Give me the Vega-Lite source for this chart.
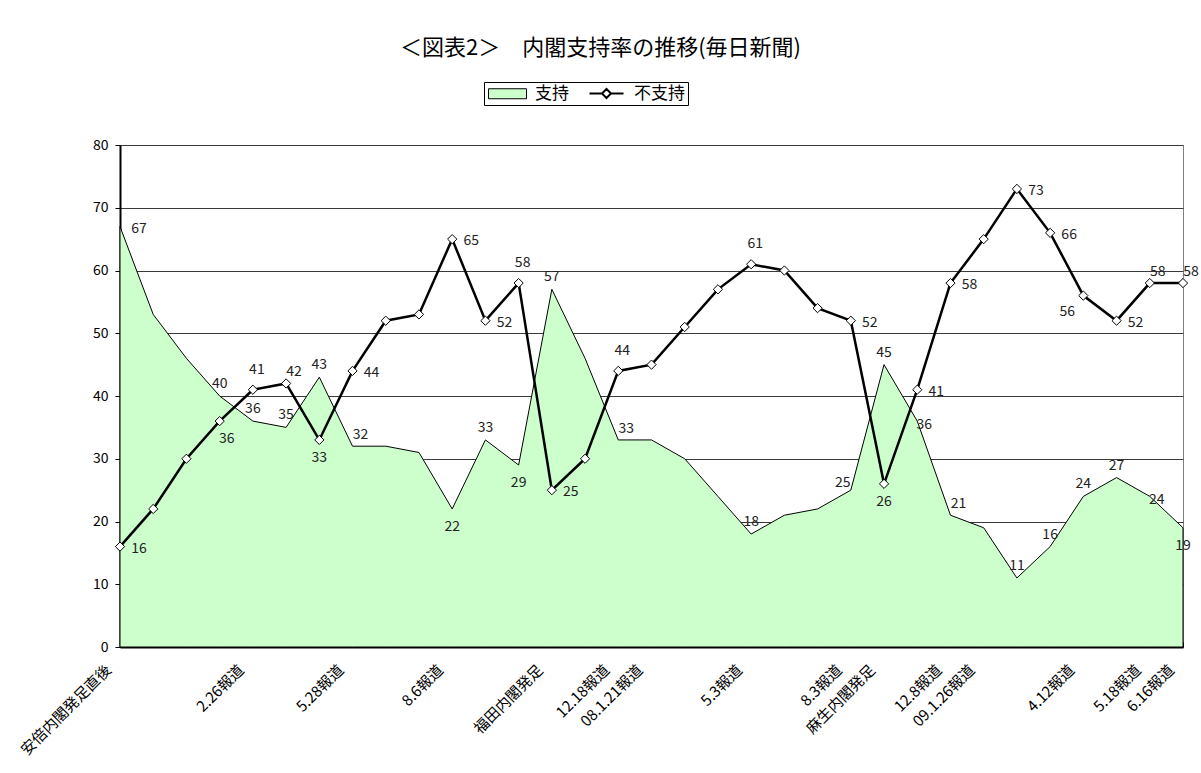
{
  "$schema": "https://vega.github.io/schema/vega-lite/v6.json",
  "width": 1063,
  "height": 502,
  "autosize": {"type": "none"},
  "padding": {"left": 120, "top": 145, "right": 18, "bottom": 126},
  "background": "white",
  "config": {
    "view": {"stroke": "#808080", "strokeWidth": 1},
    "font": "Noto Sans CJK JP"
  },
  "title": {
    "text": "＜図表2＞　内閣支持率の推移(毎日新聞)",
    "font": "Noto Sans CJK JP",
    "fontSize": 22,
    "fontWeight": "normal",
    "color": "black",
    "anchor": "middle",
    "dx": -51,
    "offset": 22
  },
  "data": {
    "values": [
      {"i": 0, "s": "支持", "v": 67, "lp": "right"},
      {"i": 1, "s": "支持", "v": 53},
      {"i": 2, "s": "支持", "v": 46},
      {"i": 3, "s": "支持", "v": 40, "lp": "above"},
      {"i": 4, "s": "支持", "v": 36, "lp": "above"},
      {"i": 5, "s": "支持", "v": 35, "lp": "above"},
      {"i": 6, "s": "支持", "v": 43, "lp": "above"},
      {"i": 7, "s": "支持", "v": 32, "lp": "above-right"},
      {"i": 8, "s": "支持", "v": 32},
      {"i": 9, "s": "支持", "v": 31},
      {"i": 10, "s": "支持", "v": 22, "lp": "below"},
      {"i": 11, "s": "支持", "v": 33, "lp": "above"},
      {"i": 12, "s": "支持", "v": 29, "lp": "below"},
      {"i": 13, "s": "支持", "v": 57, "lp": "above"},
      {"i": 14, "s": "支持", "v": 46},
      {"i": 15, "s": "支持", "v": 33, "lp": "above-right"},
      {"i": 16, "s": "支持", "v": 33},
      {"i": 17, "s": "支持", "v": 30},
      {"i": 18, "s": "支持", "v": 24},
      {"i": 19, "s": "支持", "v": 18, "lp": "above"},
      {"i": 20, "s": "支持", "v": 21},
      {"i": 21, "s": "支持", "v": 22},
      {"i": 22, "s": "支持", "v": 25, "lp": "above-left"},
      {"i": 23, "s": "支持", "v": 45, "lp": "above"},
      {"i": 24, "s": "支持", "v": 36, "lp": "right-low"},
      {"i": 25, "s": "支持", "v": 21, "lp": "above-right"},
      {"i": 26, "s": "支持", "v": 19},
      {"i": 27, "s": "支持", "v": 11, "lp": "above"},
      {"i": 28, "s": "支持", "v": 16, "lp": "above"},
      {"i": 29, "s": "支持", "v": 24, "lp": "above"},
      {"i": 30, "s": "支持", "v": 27, "lp": "above"},
      {"i": 31, "s": "支持", "v": 24, "lp": "right-low"},
      {"i": 32, "s": "支持", "v": 19, "lp": "below"},
      {"i": 0, "s": "不支持", "v": 16, "lp": "right"},
      {"i": 1, "s": "不支持", "v": 22},
      {"i": 2, "s": "不支持", "v": 30},
      {"i": 3, "s": "不支持", "v": 36, "lp": "below-right"},
      {"i": 4, "s": "不支持", "v": 41, "lp": "high"},
      {"i": 5, "s": "不支持", "v": 42, "lp": "above-right"},
      {"i": 6, "s": "不支持", "v": 33, "lp": "below"},
      {"i": 7, "s": "不支持", "v": 44, "lp": "right"},
      {"i": 8, "s": "不支持", "v": 52},
      {"i": 9, "s": "不支持", "v": 53},
      {"i": 10, "s": "不支持", "v": 65, "lp": "right"},
      {"i": 11, "s": "不支持", "v": 52, "lp": "right"},
      {"i": 12, "s": "不支持", "v": 58, "lp": "high"},
      {"i": 13, "s": "不支持", "v": 25, "lp": "right"},
      {"i": 14, "s": "不支持", "v": 30},
      {"i": 15, "s": "不支持", "v": 44, "lp": "high"},
      {"i": 16, "s": "不支持", "v": 45},
      {"i": 17, "s": "不支持", "v": 51},
      {"i": 18, "s": "不支持", "v": 57},
      {"i": 19, "s": "不支持", "v": 61, "lp": "high"},
      {"i": 20, "s": "不支持", "v": 60},
      {"i": 21, "s": "不支持", "v": 54},
      {"i": 22, "s": "不支持", "v": 52, "lp": "right"},
      {"i": 23, "s": "不支持", "v": 26, "lp": "below"},
      {"i": 24, "s": "不支持", "v": 41, "lp": "right"},
      {"i": 25, "s": "不支持", "v": 58, "lp": "right"},
      {"i": 26, "s": "不支持", "v": 65},
      {"i": 27, "s": "不支持", "v": 73, "lp": "right"},
      {"i": 28, "s": "不支持", "v": 66, "lp": "right"},
      {"i": 29, "s": "不支持", "v": 56, "lp": "below-left"},
      {"i": 30, "s": "不支持", "v": 52, "lp": "right"},
      {"i": 31, "s": "不支持", "v": 58, "lp": "above-right"},
      {"i": 32, "s": "不支持", "v": 58, "lp": "above-right"}
    ]
  },
  "encoding": {
    "x": {
      "field": "i",
      "type": "ordinal",
      "scale": {"type": "point", "padding": 0},
      "axis": {
        "title": null,
        "labelAngle": -45,
        "labelAlign": "right",
        "labelBaseline": "middle",
        "labelExpr": "['安倍内閣発足直後','','','','2.26報道','','','5.28報道','','','8.6報道','','','福田内閣発足','','12.18報道','08.1.21報道','','','5.3報道','','','8.3報道','麻生内閣発足','','12.8報道','09.1.26報道','','','4.12報道','','5.18報道','6.16報道'][datum.value]",
        "labelFont": "Noto Sans CJK JP",
        "labelFontSize": 15,
        "labelColor": "black",
        "labelOverlap": false,
        "labelPadding": 25,
        "labelOffset": -12,
        "tickSize": -5,
        "tickColor": "black",
        "tickWidth": 1,
        "domainColor": "black",
        "domainWidth": 2,
        "grid": false
      }
    },
    "y": {
      "field": "v",
      "type": "quantitative",
      "scale": {"domain": [0, 80], "nice": false},
      "axis": {
        "title": null,
        "values": [0, 10, 20, 30, 40, 50, 60, 70, 80],
        "grid": true,
        "gridColor": "#3a3a3a",
        "gridWidth": 1,
        "tickSize": 5,
        "tickColor": "black",
        "domainColor": "black",
        "domainWidth": 2,
        "labelFont": "Noto Sans CJK JP",
        "labelFontSize": 14,
        "labelColor": "black",
        "labelPadding": 7
      }
    }
  },
  "layer": [
    {
      "transform": [{"filter": "datum.s === '支持'"}],
      "mark": {"type": "area", "fill": "#CCFFCC", "stroke": "black", "strokeWidth": 1, "opacity": 1}
    },
    {
      "transform": [{"filter": "datum.s === '不支持'"}],
      "mark": {"type": "line", "color": "black", "strokeWidth": 2.5}
    },
    {
      "transform": [{"filter": "datum.s === '不支持'"}],
      "mark": {"type": "point", "shape": "diamond", "filled": true, "stroke": "black", "size": 85, "opacity": 1},
      "encoding": {
        "fill": {
          "datum": "不支持",
          "scale": {"domain": ["支持", "不支持"], "range": ["#CCFFCC", "white"]},
          "legend": {
            "title": null,
            "orient": "none",
            "legendX": 364,
            "legendY": -63,
            "direction": "horizontal",
            "strokeColor": "black",
            "padding": 3,
            "labelFont": "Noto Sans CJK JP",
            "labelFontSize": 17,
            "labelColor": "black",
            "symbolSize": 100,
            "symbolOffset": 12,
            "labelOffset": 19,
            "columnPadding": 16,
            "symbolOpacity": 1,
            "symbolStrokeColor": "black",
            "symbolType": {"expr": "datum.value === '支持' ? 'M-3.8,-1H3.8V1H-3.8Z' : 'M-3.4,0H-0.9M0.9,0H3.4M0,-0.9L0.9,0L0,0.9L-0.9,0Z'"},
            "symbolStrokeWidth": {"expr": "datum.value === '支持' ? 1 : 2"}
          }
        },
        "strokeWidth": {"value": 1}
      }
    },
    {
      "transform": [{"filter": "datum.lp === 'right'"}],
      "mark": {"type": "text", "dx": 19, "dy": 2, "align": "center", "baseline": "middle", "fontSize": 14, "font": "Noto Sans CJK JP", "color": "#222"},
      "encoding": {"text": {"field": "v"}}
    },
    {
      "transform": [{"filter": "datum.lp === 'above'"}],
      "mark": {"type": "text", "dx": 0, "dy": -12, "align": "center", "baseline": "middle", "fontSize": 14, "font": "Noto Sans CJK JP", "color": "#222"},
      "encoding": {"text": {"field": "v"}}
    },
    {
      "transform": [{"filter": "datum.lp === 'high'"}],
      "mark": {"type": "text", "dx": 4, "dy": -20, "align": "center", "baseline": "middle", "fontSize": 14, "font": "Noto Sans CJK JP", "color": "#222"},
      "encoding": {"text": {"field": "v"}}
    },
    {
      "transform": [{"filter": "datum.lp === 'above-right'"}],
      "mark": {"type": "text", "dx": 8, "dy": -11, "align": "center", "baseline": "middle", "fontSize": 14, "font": "Noto Sans CJK JP", "color": "#222"},
      "encoding": {"text": {"field": "v"}}
    },
    {
      "transform": [{"filter": "datum.lp === 'above-left'"}],
      "mark": {"type": "text", "dx": -8, "dy": -7, "align": "center", "baseline": "middle", "fontSize": 14, "font": "Noto Sans CJK JP", "color": "#222"},
      "encoding": {"text": {"field": "v"}}
    },
    {
      "transform": [{"filter": "datum.lp === 'below'"}],
      "mark": {"type": "text", "dx": 0, "dy": 18, "align": "center", "baseline": "middle", "fontSize": 14, "font": "Noto Sans CJK JP", "color": "#222"},
      "encoding": {"text": {"field": "v"}}
    },
    {
      "transform": [{"filter": "datum.lp === 'below-right'"}],
      "mark": {"type": "text", "dx": 7, "dy": 18, "align": "center", "baseline": "middle", "fontSize": 14, "font": "Noto Sans CJK JP", "color": "#222"},
      "encoding": {"text": {"field": "v"}}
    },
    {
      "transform": [{"filter": "datum.lp === 'below-left'"}],
      "mark": {"type": "text", "dx": -16, "dy": 16, "align": "center", "baseline": "middle", "fontSize": 14, "font": "Noto Sans CJK JP", "color": "#222"},
      "encoding": {"text": {"field": "v"}}
    },
    {
      "transform": [{"filter": "datum.lp === 'right-low'"}],
      "mark": {"type": "text", "dx": 7, "dy": 4, "align": "center", "baseline": "middle", "fontSize": 14, "font": "Noto Sans CJK JP", "color": "#222"},
      "encoding": {"text": {"field": "v"}}
    }
  ]
}
